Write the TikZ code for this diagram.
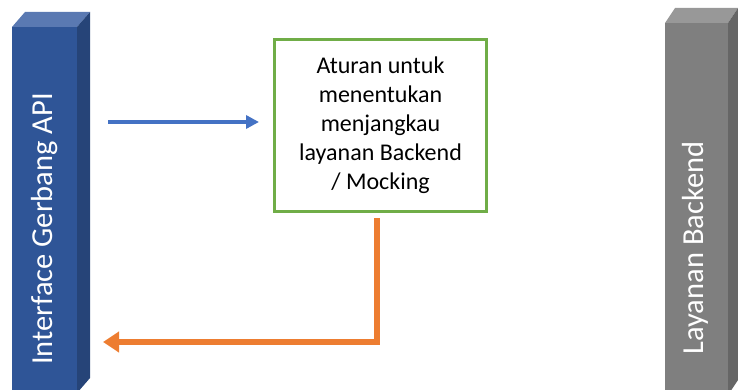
\documentclass[tikz,border=0pt]{standalone}
\usepackage{fontspec}
\setmainfont{Carlito}
\usetikzlibrary{arrows.meta}
\definecolor{gwfront}{HTML}{2F5597}
\definecolor{gwtop}{HTML}{5A79B2}
\definecolor{gwside}{HTML}{264478}
\definecolor{befront}{HTML}{7F7F7F}
\definecolor{betop}{HTML}{989898}
\definecolor{beside}{HTML}{666666}
\definecolor{reqblue}{HTML}{4472C4}
\definecolor{resorange}{HTML}{ED7D31}
\definecolor{rulegreen}{HTML}{70AD47}
\begin{document}
\begin{tikzpicture}[x=1pt,y=-1pt,
  pillarface/.style={inner sep=0pt, outer sep=0pt, anchor=north west},
  pillartext/.style={rotate=90, text=white, inner sep=0pt,
    font=\fontsize{30.5}{36}\selectfont},
  rulebox/.style={draw=rulegreen, line width=3pt, fill=white,
    minimum width=212pt, minimum height=172pt, align=center,
    inner sep=0pt, font=\fontsize{24}{29}\selectfont},
  flow/.style={line width=4pt, line join=miter}]
\useasboundingbox (0,0) rectangle (738,390);
\clip (0,0) rectangle (738,390);

% API gateway pillar
\node[pillarface, fill=gwfront, minimum width=65pt, minimum height=366pt] (gw) at (12,27) {};
\fill[gwtop] (gw.north west) -- ++(13,-15) -- ++(65,0) -- (gw.north east) -- cycle;
\fill[gwside] (gw.north east) -- ++(13,-15) -- ++(0,366) -- (gw.south east) -- cycle;
\node[pillartext] (gwlabel) at (44.5,229) {Interface Gerbang API};

% Backend service pillar
\node[pillarface, fill=befront, minimum width=63pt, minimum height=372pt] (be) at (665,23) {};
\fill[betop] (be.north west) -- ++(10,-15) -- ++(63,0) -- (be.north east) -- cycle;
\fill[beside] (be.north east) -- ++(10,-15) -- ++(0,372) -- (be.south east) -- cycle;
\node[pillartext] (belabel) at (695.5,248) {Layanan Backend};

% Routing rule box
\node[rulebox] (rule) at (380.5,125.5)
  {Aturan untuk\\menentukan\\menjangkau\\layanan Backend\\/ Mocking};

% Request and response flows
\coordinate (reqstart) at (108,122);
\coordinate (reqend) at (259,122);
\draw[flow, reqblue, -{Triangle[length=13pt,width=13pt]}] (reqstart) -- (reqend);

\coordinate (resstart) at (377,218);
\coordinate (resend) at (103,342);
\draw[flow, line width=6pt, resorange, -{Triangle[length=16pt,width=20pt]}]
  (resstart) |- (resend);
\end{tikzpicture}
\end{document}
